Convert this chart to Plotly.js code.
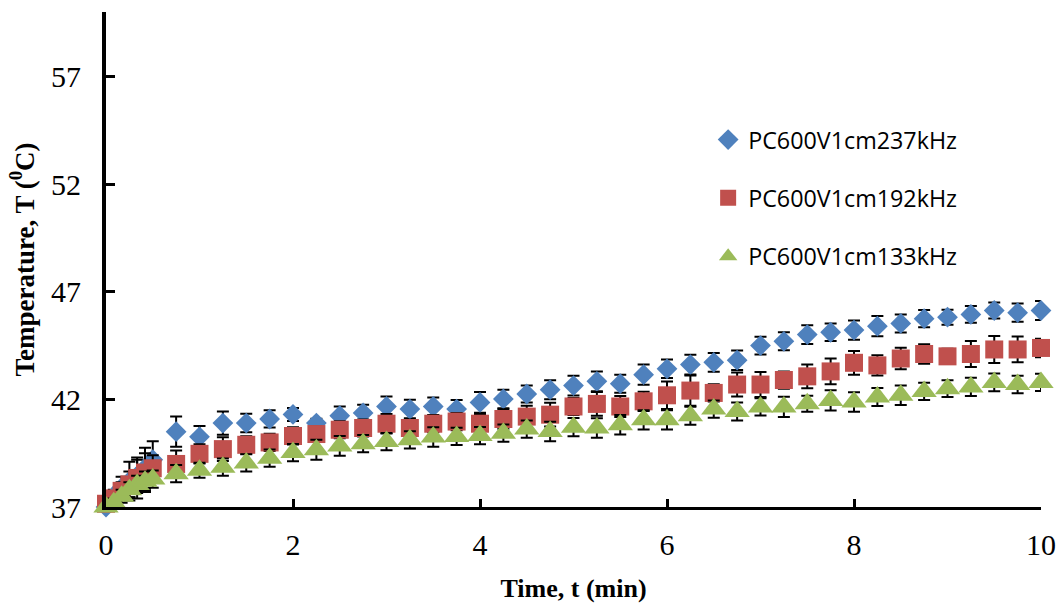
<!DOCTYPE html>
<html>
<head>
<meta charset="utf-8">
<script src="https://cdn.plot.ly/plotly-3.0.1.min.js"></script>
<style>html,body{margin:0;padding:0;background:#fff;}#chart{width:1060px;height:603px;}</style>
</head>
<body>
<div id="chart"></div>
<script>
// Time (min)
const time = [0, 0.083, 0.167, 0.25, 0.333, 0.417, 0.5,
  0.75, 1, 1.25, 1.5, 1.75, 2, 2.25, 2.5, 2.75, 3, 3.25, 3.5, 3.75, 4,
  4.25, 4.5, 4.75, 5, 5.25, 5.5, 5.75, 6, 6.25, 6.5, 6.75, 7, 7.25, 7.5, 7.75, 8,
  8.25, 8.5, 8.75, 9, 9.25, 9.5, 9.75, 10];

const names = ["PC600V1cm237kHz", "PC600V1cm192kHz", "PC600V1cm133kHz"];

// Temperature (°C)
const temp237 = [37.0, 37.5, 37.9, 38.2, 38.45, 38.8, 39.2,
  40.5, 40.26, 40.9, 40.9, 41.09, 41.3, 40.9, 41.24, 41.37, 41.67, 41.55, 41.67, 41.55, 41.86,
  42.02, 42.25, 42.45, 42.64, 42.84, 42.73, 43.15, 43.42, 43.62, 43.72, 43.82, 44.5, 44.7, 45.01, 45.12, 45.22,
  45.4, 45.53, 45.75, 45.82, 45.95, 46.13, 46.03, 46.13];
const err237 = [0.1, 0.3, 0.5, 0.9, 0.75, 0.95, 0.85,
  0.7, 0.5, 0.54, 0.43, 0.4, 0.3, 0.2, 0.43, 0.38, 0.47, 0.43, 0.42, 0.42, 0.48,
  0.43, 0.4, 0.44, 0.46, 0.46, 0.42, 0.47, 0.43, 0.46, 0.44, 0.45, 0.41, 0.42, 0.44, 0.41, 0.45,
  0.47, 0.42, 0.4, 0.35, 0.39, 0.37, 0.42, 0.44];

const temp192 = [37.15, 37.4, 37.75, 38.05, 38.35, 38.6, 38.8,
  39.0, 39.47, 39.69, 39.89, 40.0, 40.3, 40.39, 40.59, 40.67, 40.87, 40.67, 40.87, 40.97, 40.87,
  41.09, 41.2, 41.29, 41.67, 41.79, 41.67, 41.91, 42.19, 42.41, 42.3, 42.69, 42.69, 42.9, 43.07, 43.3, 43.7,
  43.58, 43.9, 44.11, 44.0, 44.11, 44.32, 44.32, 44.39];
const err192 = [0.1, 0.3, 0.4, 0.6, 0.95, 0.9, 0.6,
  0.62, 0.45, 0.55, 0.4, 0.4, 0.4, 0.35, 0.4, 0.4, 0.45, 0.4, 0.4, 0.4, 0.45,
  0.45, 0.5, 0.55, 0.4, 0.55, 0.49, 0.45, 0.64, 0.7, 0.4, 0.56, 0.58, 0.4, 0.55, 0.6, 0.55,
  0.47, 0.5, 0.45, 0.35, 0.6, 0.63, 0.6, 0.43];

const temp133 = [37.0, 37.2, 37.5, 37.8, 38.05, 38.2, 38.3,
  38.55, 38.71, 38.85, 39.05, 39.27, 39.53, 39.66, 39.84, 39.94, 40.04, 40.12, 40.25, 40.28, 40.32,
  40.43, 40.62, 40.51, 40.71, 40.67, 40.82, 41.05, 41.05, 41.24, 41.55, 41.44, 41.65, 41.65, 41.8, 41.95, 41.88,
  42.11, 42.19, 42.37, 42.5, 42.58, 42.79, 42.69, 42.79];
const err133 = [0.1, 0.2, 0.3, 0.35, 0.4, 0.45, 0.4,
  0.4, 0.35, 0.4, 0.4, 0.4, 0.4, 0.47, 0.46, 0.4, 0.4, 0.4, 0.45, 0.4, 0.4,
  0.4, 0.4, 0.45, 0.42, 0.45, 0.45, 0.45, 0.45, 0.42, 0.4, 0.42, 0.4, 0.47, 0.37, 0.47, 0.45,
  0.42, 0.45, 0.4, 0.39, 0.42, 0.41, 0.41, 0.4];

const xTicks = [0, 2, 4, 6, 8, 10];
const yTicks = [37, 42, 47, 52, 57];

function series(name, y, err, color, symbol, size, group) {
  return {
    type: 'scatter', mode: 'markers', name: name, x: time, y: y,
    legendgroup: group, cliponaxis: false,
    marker: {color: color, symbol: symbol, size: size, line: {width: 0}},
    error_y: {type: 'data', array: err, visible: true, color: '#000000', thickness: 2, width: 6}
  };
}

const data = [
  series(names[0], temp237, err237, '#4F81BD', 'diamond', 16, 'a'),
  series(names[1], temp192, err192, '#C0504D', 'square', 18, 'b'),
  series(names[2], temp133, err133, '#9BBB59', 'triangle-up', 22, 'c')
];

const layout = {
  width: 1060, height: 603,
  margin: {l: 106, r: 19, t: 12, b: 96},
  paper_bgcolor: '#ffffff', plot_bgcolor: '#ffffff',
  font: {family: '"Liberation Serif", "Times New Roman", serif', color: '#000000'},
  showlegend: true,
  legend: {
    x: 0.644, y: 0.786, xanchor: 'left', yanchor: 'top',
    font: {family: '"Open Sans", "Noto Sans", sans-serif', size: 23.3, color: '#000000'},
    tracegroupgap: 25, bgcolor: 'rgba(0,0,0,0)'
  },
  xaxis: {
    range: [0, 10], tickmode: 'array', tickvals: xTicks, ticktext: xTicks.map(String),
    showline: true, linecolor: '#000000', linewidth: 3, mirror: false,
    ticks: 'inside', ticklen: 8, tickwidth: 3, tickcolor: '#000000',
    showgrid: false, zeroline: false,
    tickfont: {family: '"Liberation Serif", "Times New Roman", serif', size: 30, color: '#000000'},
    ticklabelstandoff: 9,
    title: {text: '<b>Time, t (min)</b>', standoff: 19,
      font: {family: '"Liberation Serif", "Times New Roman", serif', size: 26, color: '#000000'}}
  },
  yaxis: {
    range: [37, 60], tickmode: 'array', tickvals: yTicks, ticktext: yTicks.map(String),
    showline: true, linecolor: '#000000', linewidth: 4,
    ticks: 'inside', ticklen: 9, tickwidth: 3, tickcolor: '#000000',
    showgrid: false, zeroline: false,
    tickfont: {family: '"Liberation Serif", "Times New Roman", serif', size: 30, color: '#000000'},
    ticklabelstandoff: 15,
    title: {text: '<b>Temperature, T (<sup>0</sup>C)</b>', standoff: 10,
      font: {family: '"Liberation Serif", "Times New Roman", serif', size: 27, color: '#000000'}}
  }
};

Plotly.newPlot('chart', data, layout, {displayModeBar: false, staticPlot: true});
</script>
</body>
</html>
